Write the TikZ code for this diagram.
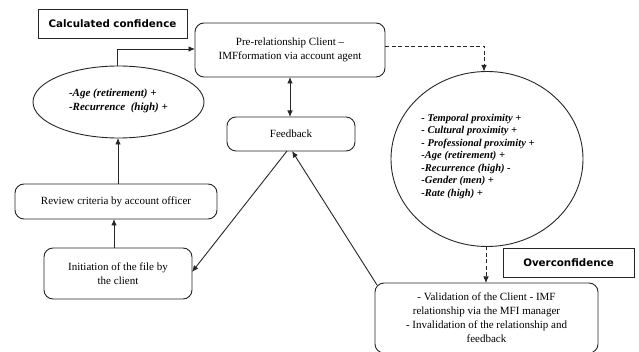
\documentclass[tikz,border=0pt]{standalone}
\usepackage{fontspec}
\setmainfont{Liberation Serif}
\newfontfamily\labfont{DejaVu Sans}
\usetikzlibrary{arrows.meta,shapes.geometric}
\begin{document}
\begin{tikzpicture}[x=1pt,y=-1pt,
  every node/.style={inner sep=0pt,outer sep=0pt},
  line/.style={draw=black!85,line width=0.9pt},
  arr/.style={line,-{Latex[length=6.5pt,width=5.5pt]}},
  darr/.style={arr,dashed,dash pattern=on 4pt off 2.5pt},
  rbox/.style={line,rounded corners=9pt,align=center,font=\fontsize{11}{14}\selectfont},
  lab/.style={line,font=\labfont\bfseries\fontsize{10.3}{12}\selectfont},
  bi/.style={font=\bfseries\itshape\fontsize{11}{14}\selectfont,align=left},
]
\useasboundingbox (0,0) rectangle (639,352);
\node[lab,minimum width=149pt,minimum height=29pt] (calc) at (112.5,23.5) {Calculated confidence};
\node[rbox,minimum width=190pt,minimum height=54pt] (pre) at (290,50) {Pre-relationship Client --\\IMFformation via account agent};
\node[line,ellipse,minimum width=171pt,minimum height=72pt] (ell) at (118.5,102) {};
\node[bi] (elltext) at (118.5,101) {-Age (retirement) +\\-Recurrence\ \ (high) +};
\node[rbox,minimum width=128pt,minimum height=34pt] (fb) at (291,134) {Feedback};
\node[line,ellipse,minimum width=192pt,minimum height=175pt] (circ) at (487,159) {};
\node[font=\bfseries\itshape\fontsize{10.5}{12.5}\selectfont,align=left] (circtext) at (478,156) {- Temporal proximity +\\- Cultural proximity +\\- Professional proximity +\\-Age (retirement) +\\-Recurrence (high) -\\-Gender (men) +\\-Rate (high) +};
\node[lab,minimum width=131pt,minimum height=29pt] (over) at (568.5,262.5) {Overconfidence};
\node[rbox,minimum width=223pt,minimum height=70pt] (val) at (486.5,318) {- Validation of the Client - IMF\\relationship via the MFI manager\\- Invalidation of the relationship and\\feedback};
\node[rbox,minimum width=202pt,minimum height=35pt] (rev) at (116,201.5) {Review criteria by account officer};
\node[rbox,minimum width=148pt,minimum height=51pt] (init) at (118,273.5) {Initiation of the file by\\the client};
% connectors
\draw[arr] (ell.north -| 117,0) |- (pre.west |- 0,49);
\draw[line,{Latex[length=6.5pt,width=5.5pt]}-{Latex[length=6.5pt,width=5.5pt]}] (pre.south) -- (fb.north -| pre.south);
\draw[darr] (pre.east |- 0,46) -| (circ.north -| 484,0);
\draw[darr] (circ.south -| 486,0) -- (val.north -| 486,0);
\draw[arr] (rev.north -| 118,0) -- (ell.south -| 118,0);
\draw[arr] (init.north -| 114,0) -- (rev.south -| 114,0);
\coordinate (fbl) at (287,151);
\coordinate (fbr) at (292,151);
\coordinate (initr) at (192,272);
\coordinate (valtl) at (377,285);
\draw[arr] (fbl) -- (initr);
\draw[arr] (valtl) -- (fbr);
\end{tikzpicture}
\end{document}
